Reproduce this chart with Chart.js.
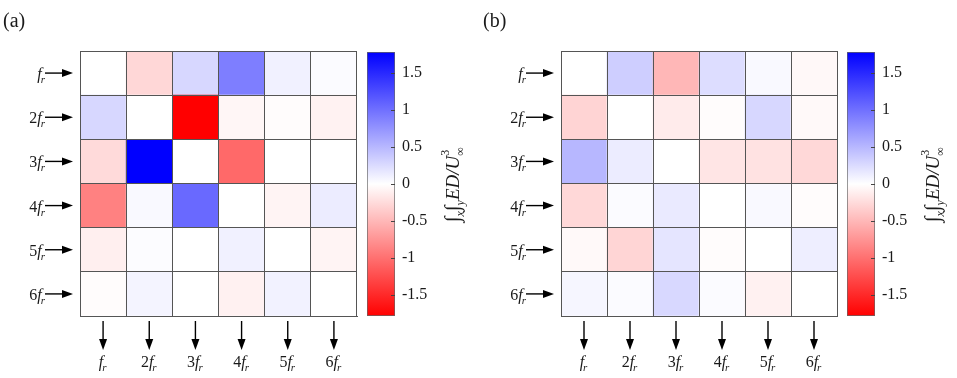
<!DOCTYPE html>
<html>
<head>
<meta charset="utf-8">
<script src="https://cdn.jsdelivr.net/npm/chart.js@4.4.1/dist/chart.umd.min.js"></script>
<style>
  html, body { margin: 0; padding: 0; background: #ffffff; }
  #wrap { position: relative; width: 957px; height: 378px; overflow: hidden; }
  canvas { position: absolute; top: 0; }
</style>
</head>
<body>
<div id="wrap">
  <canvas id="heatA" width="360" height="378" style="left:0px"></canvas>
  <canvas id="cbA" width="120" height="378" style="left:360px"></canvas>
  <canvas id="heatB" width="360" height="378" style="left:480px"></canvas>
  <canvas id="cbB" width="117" height="378" style="left:840px"></canvas>
</div>
<script>
// ---------------- data ----------------
const harmonics = ['', '2', '3', '4', '5', '6'];       // coefficient of f_r
const columns = ['1', '2', '3', '4', '5', '6'];
const colorbarTicks = [-1.5, -1, -0.5, 0, 0.5, 1, 1.5];
const colorMin = -1.78;
const colorMax = 1.78;

// rows top->bottom = f_r ... 6f_r, columns left->right = f_r ... 6f_r
const valuesA = [
  [ 0.00, -0.28,  0.28,  0.90,  0.10,  0.03],
  [ 0.28,  0.00, -1.78, -0.06, -0.02, -0.09],
  [-0.26,  1.78,  0.00, -1.05,  0.00,  0.00],
  [-0.88,  0.04,  1.05,  0.00, -0.08,  0.13],
  [-0.11,  0.02,  0.00,  0.10,  0.00, -0.08],
  [-0.02,  0.08,  0.00, -0.10,  0.09,  0.00]
];
const valuesB = [
  [ 0.00,  0.34, -0.50,  0.24,  0.04, -0.05],
  [-0.30,  0.00, -0.14, -0.02,  0.28, -0.04],
  [ 0.50,  0.13,  0.00, -0.18, -0.20, -0.27],
  [-0.27,  0.03,  0.15,  0.00,  0.04, -0.02],
  [-0.04, -0.29,  0.18, -0.02,  0.00,  0.12],
  [ 0.06,  0.03,  0.27,  0.03, -0.10,  0.00]
];

// ---------------- helpers ----------------
const SERIF = '"Liberation Serif", "Times New Roman", Times, serif';
const TEXT = '#1a1a1a';

function valueColor(v) {
  const t = Math.min(1, Math.abs(v) / colorMax);
  const c = Math.round(255 * (1 - t));
  return v >= 0 ? `rgb(${c},${c},255)` : `rgb(255,${c},${c})`;
}

function drawFr(ctx, coef, x, baseline, align) {
  const fBig = '16px ' + SERIF, fIt = 'italic 16px ' + SERIF, fSub = 'italic 11px ' + SERIF;
  ctx.font = fBig; const w1 = coef ? ctx.measureText(coef).width : 0;
  ctx.font = fIt; const w2 = ctx.measureText('f').width;
  ctx.font = fSub; const w3 = ctx.measureText('r').width;
  const total = w1 + w2 + w3;
  let sx = align === 'right' ? x - total : x - total / 2;
  ctx.fillStyle = TEXT;
  ctx.textBaseline = 'alphabetic';
  ctx.textAlign = 'left';
  if (coef) { ctx.font = fBig; ctx.fillText(coef, sx, baseline); sx += w1; }
  ctx.font = fIt; ctx.fillText('f', sx, baseline); sx += w2;
  ctx.font = fSub; ctx.fillText('r', sx - 1, baseline + 4);
}

function arrow(ctx, x1, y1, x2, y2) {
  const ang = Math.atan2(y2 - y1, x2 - x1);
  const hl = 11, hw = 4;
  ctx.save();
  ctx.strokeStyle = '#000'; ctx.fillStyle = '#000'; ctx.lineWidth = 1.4;
  ctx.beginPath();
  ctx.moveTo(x1, y1);
  ctx.lineTo(x2 - hl * Math.cos(ang), y2 - hl * Math.sin(ang));
  ctx.stroke();
  ctx.translate(x2, y2); ctx.rotate(ang);
  ctx.beginPath();
  ctx.moveTo(0, 0); ctx.lineTo(-hl, -hw); ctx.lineTo(-hl, hw); ctx.closePath();
  ctx.fill();
  ctx.restore();
}

const heatLabels = {
  id: 'heatLabels',
  afterDraw(chart, args, opts) {
    const ctx = chart.ctx, xs = chart.scales.x, ys = chart.scales.y, area = chart.chartArea;
    ctx.save();
    ctx.font = '20px ' + SERIF; ctx.fillStyle = TEXT; ctx.textAlign = 'left'; ctx.textBaseline = 'alphabetic';
    ctx.fillText(opts.letter, opts.letterX, 27);
    harmonics.forEach((h, i) => {
      const yc = ys.getPixelForValue(harmonics.length - i - 0.5);
      drawFr(ctx, h, area.left - 34, yc + 6, 'right');
      arrow(ctx, area.left - 35, yc, area.left - 7, yc);
      const xc = xs.getPixelForValue(i);
      arrow(ctx, xc, area.bottom + 5, xc, area.bottom + 34);
      drawFr(ctx, h, xc, area.bottom + 51, 'center');
    });
    ctx.restore();
  }
};

function heatConfig(values, letter, letterX, padLeft) {
  const datasets = [];
  for (let r = values.length - 1; r >= 0; r--) {
    datasets.push({
      label: harmonics[r] + 'f_r',
      data: columns.map(() => 1),
      backgroundColor: values[r].map(valueColor),
      borderWidth: 0,
      barPercentage: 1,
      categoryPercentage: 1
    });
  }
  return {
    type: 'bar',
    data: { labels: columns, datasets },
    plugins: [heatLabels],
    options: {
      responsive: false,
      animation: false,
      devicePixelRatio: 1,
      layout: { padding: { left: padLeft, right: 3, top: 51, bottom: 62 } },
      plugins: {
        legend: { display: false },
        tooltip: { enabled: false },
        heatLabels: { letter, letterX }
      },
      scales: {
        x: {
          stacked: true,
          grid: { color: '#555', lineWidth: 1, offset: true, drawTicks: false, z: 1 },
          border: { color: '#555', width: 1, z: 1 },
          ticks: { display: false },
          afterFit(s) { s.height = 0; }
        },
        y: {
          stacked: true, min: 0, max: 6,
          grid: { color: '#555', lineWidth: 1, drawTicks: false, z: 1 },
          border: { color: '#555', width: 1, z: 1 },
          ticks: { display: false, stepSize: 1 },
          afterFit(s) { s.width = 0; }
        }
      }
    }
  };
}

const cbDecor = {
  id: 'cbDecor',
  afterDraw(chart) {
    const ctx = chart.ctx, ys = chart.scales.y, area = chart.chartArea;
    ctx.save();
    ctx.strokeStyle = '#444'; ctx.lineWidth = 1;
    colorbarTicks.forEach(t => {
      const y = Math.round(ys.getPixelForValue(t)) + 0.5;
      ctx.beginPath(); ctx.moveTo(area.right - 4, y); ctx.lineTo(area.right, y); ctx.stroke();
    });
    const big = 'italic 19px ' + SERIF, intF = 'italic 21px ' + SERIF, small = 'italic 12px ' + SERIF, smallUp = '12px ' + SERIF;
    const parts = [
      { t: '\u222B', f: intF, dy: 0, adv: true },
      { t: 'x', f: small, dy: 5, adv: true },
      { t: '\u222B', f: intF, dy: 0, adv: true },
      { t: 'y', f: small, dy: 5, adv: true },
      { t: 'ED/U', f: big, dy: 0, adv: true },
      { t: '\u221E', f: smallUp, dy: 5, adv: false },
      { t: '3', f: smallUp, dy: -10, adv: true }
    ];
    let total = 0;
    parts.forEach(p => { ctx.font = p.f; p.w = ctx.measureText(p.t).width; if (p.adv) total += p.w; });
    const cx = area.right + 64, cy = (area.top + area.bottom) / 2 + 2;
    ctx.translate(cx, cy); ctx.rotate(-Math.PI / 2);
    ctx.fillStyle = TEXT; ctx.textAlign = 'left'; ctx.textBaseline = 'alphabetic';
    let x = -total / 2;
    parts.forEach(p => {
      ctx.font = p.f; ctx.fillText(p.t, x, p.dy);
      if (p.adv) x += p.w;
    });
    ctx.restore();
  }
};

function cbConfig(padLeft, axisWidth) {
  return {
    type: 'bar',
    data: {
      labels: [''],
      datasets: [{
        data: [[colorMin, colorMax]],
        backgroundColor(c) {
          const chart = c.chart; const ys = chart.scales.y;
          if (!chart.chartArea || !ys) return '#fff';
          const g = chart.ctx.createLinearGradient(0, ys.getPixelForValue(colorMin), 0, ys.getPixelForValue(colorMax));
          g.addColorStop(0, 'rgb(255,0,0)');
          g.addColorStop(0.5, 'rgb(255,255,255)');
          g.addColorStop(1, 'rgb(0,0,255)');
          return g;
        },
        borderColor: '#666', borderWidth: 1, borderSkipped: false,
        barPercentage: 1, categoryPercentage: 1
      }]
    },
    plugins: [cbDecor],
    options: {
      responsive: false,
      animation: false,
      devicePixelRatio: 1,
      layout: { padding: { left: padLeft, right: 0, top: 52, bottom: 62 } },
      plugins: { legend: { display: false }, tooltip: { enabled: false } },
      scales: {
        x: { display: false },
        y: {
          position: 'right', min: colorMin, max: colorMax,
          grid: { display: false, drawTicks: false },
          border: { display: false },
          ticks: {
            includeBounds: false, stepSize: 0.5, padding: 7,
            color: TEXT, font: { family: SERIF, size: 16 },
            callback: v => String(Math.round(v * 10) / 10)
          },
          afterFit(s) { s.width = axisWidth; }
        }
      }
    }
  };
}

function build() {
  new Chart(document.getElementById('heatA'), heatConfig(valuesA, '(a)', 3, 80));
  new Chart(document.getElementById('cbA'), cbConfig(7, 120 - 7 - 28));
  new Chart(document.getElementById('heatB'), heatConfig(valuesB, '(b)', 3, 81));
  new Chart(document.getElementById('cbB'), cbConfig(7, 117 - 7 - 28));
}
if (document.fonts && document.fonts.load) {
  Promise.all([
    document.fonts.load('16px "Liberation Serif"'),
    document.fonts.load('italic 16px "Liberation Serif"')
  ]).then(build, build);
} else {
  build();
}
</script>
</body>
</html>
